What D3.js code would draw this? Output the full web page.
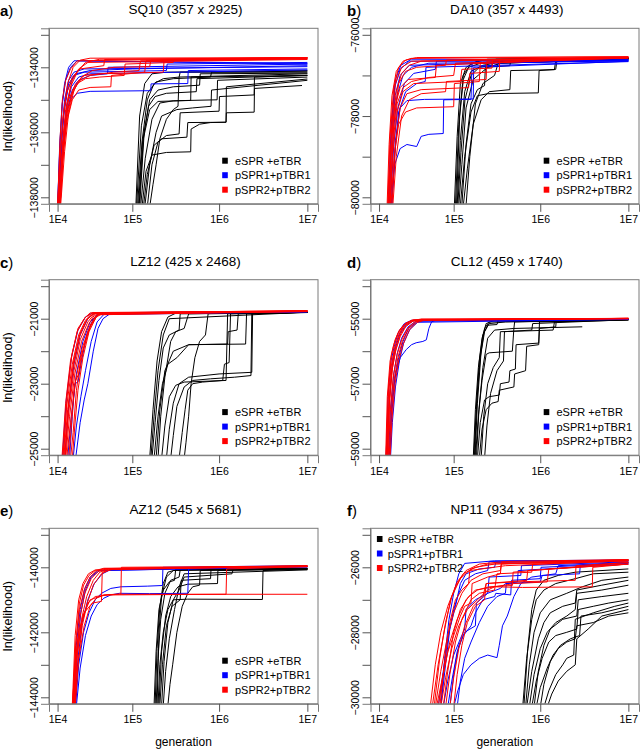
<!DOCTYPE html>
<html>
<head>
<meta charset="utf-8">
<script src="https://cdn.jsdelivr.net/npm/d3@7"></script>
<style>
  body { margin: 0; background: #fff; }
  text { font-family: "Liberation Sans", Arial, Helvetica, sans-serif; }
</style>
</head>
<body>
<svg id="chart" width="640" height="751"></svg>
<script>
// ---- values ----
const genTicks = [1e4, 1e5, 1e6, 1e7];
const genTickLabels = ["1E4", "1E5", "1E6", "1E7"];
const seriesNames = ["eSPR +eTBR", "pSPR1+pTBR1", "pSPR2+pTBR2"];
const panelLetters = ["a", "b", "c", "d", "e", "f"];
const panelTitles = ["SQ10 (357 x 2925)", "DA10 (357 x 4493)", "LZ12 (425 x 2468)",
                     "CL12 (459 x 1740)", "AZ12 (545 x 5681)", "NP11 (934 x 3675)"];
const yLimits = [[-138000, -133000], [-80000, -76000], [-25000, -20000],
                 [-59000, -54000], [-144000, -139000], [-30000, -25000]];

// each trace: [generation, ln(likelihood)]
const sq10Black = [
  [[1.1e5,-138300],[1.22e5,-135500],[1.4e5,-134500],[1.7e5,-134200],[2.5e5,-134150],[1e7,-134100]],
  [[1.15e5,-138300],[1.3e5,-136300],[1.5e5,-135000],[1.8e5,-134500],[2.3e5,-134350],[3.5e5,-134300],[3.6e5,-134150],[1e7,-134150]],
  [[1.2e5,-138300],[1.35e5,-136200],[1.6e5,-135300],[2e5,-135050],[4.75e5,-135020],[4.8e5,-134300],[1e7,-134250]],
  [[1.25e5,-138300],[1.42e5,-136800],[1.7e5,-135600],[2.1e5,-135100],[3e5,-135030],[9.5e5,-135000],[9.6e5,-134400],[1e7,-134300]],
  [[1.3e5,-138300],[1.45e5,-137200],[1.7e5,-136700],[2.5e5,-136620],[4.75e5,-136600],[4.8e5,-135900],[6e5,-135750],[8e5,-135700],[1.2e6,-135690],[1.21e6,-135400],[2.5e6,-135380],[2.52e6,-134650],[8.7e6,-134560]],
  [[1.35e5,-138300],[1.5e5,-137300],[1.8e5,-136400],[2.2e5,-136200],[4.3e5,-136150],[4.4e5,-135700],[1.2e6,-135690],[1.21e6,-134600],[1e7,-134360]],
  [[1.12e5,-138300],[1.28e5,-135800],[1.5e5,-134800],[1.9e5,-134450],[3e5,-134350],[8e5,-134300],[8.2e5,-134150],[1e7,-134120]],
  [[1.4e5,-138300],[1.6e5,-137000],[1.9e5,-136000],[2.2e5,-135500],[3.3e5,-135300],[5e5,-135250],[8.1e5,-135200],[8.2e5,-134700],[1e7,-134400]],
  [[1.18e5,-138300],[1.32e5,-136300],[1.55e5,-135200],[1.85e5,-134900],[2.5e5,-134800],[5.5e5,-134750],[5.6e5,-134350],[1e7,-134250]],
  [[1.5e5,-138300],[1.7e5,-137000],[2e5,-136300],[2.5e5,-136100],[3.5e5,-136050],[3.6e5,-135400],[1e6,-135350],[1.01e6,-134900],[2.5e6,-134850],[2.52e6,-134300],[1e7,-134250]],
  [[1.22e5,-138300],[1.38e5,-136000],[1.6e5,-135000],[2e5,-134700],[3e5,-134600],[6e5,-134550],[6.1e5,-134200],[1e7,-134180]],
  [[1.6e5,-138300],[1.75e5,-137600],[1.9e5,-137000],[2.1e5,-136200],[2.5e5,-135600],[3e5,-135300],[3.4e5,-135200],[3.5e5,-134300],[1e7,-134200]]
];
const sq10Blue = [
  [[1.05e4,-138300],[1.18e4,-136500],[1.35e4,-135500],[1.6e4,-135000],[2e4,-134800],[3e4,-134740],[1.65e5,-134720],[1.66e5,-134510],[4.4e5,-134500],[4.45e5,-134100],[1e7,-134050]],
  [[1.0e4,-138300],[1.1e4,-136300],[1.2e4,-135100],[1.35e4,-134400],[1.6e4,-134000],[2e4,-133800],[1e7,-133900]],
  [[1.05e4,-138300],[1.15e4,-136400],[1.3e4,-135200],[1.5e4,-134500],[1.9e4,-134200],[3e4,-134100],[1e5,-134050],[1e7,-133950]],
  [[1.02e4,-138300],[1.12e4,-136700],[1.25e4,-135500],[1.45e4,-134700],[1.8e4,-134250],[2.5e4,-134150],[2.5e5,-134100],[2.55e5,-133900],[1e7,-133850]],
  [[1.08e4,-138300],[1.2e4,-136600],[1.38e4,-135300],[1.65e4,-134600],[2.1e4,-134300],[3e4,-134200],[1e7,-134080]],
  [[1.0e4,-138300],[1.08e4,-136500],[1.18e4,-135200],[1.3e4,-134500],[1.5e4,-134000],[1.8e4,-133800],[1e7,-133880]],
  [[1.04e4,-138300],[1.16e4,-136200],[1.3e4,-135000],[1.5e4,-134400],[1.8e4,-134150],[2.5e4,-134050],[1e7,-133980]],
  [[1.1e4,-138300],[1.24e4,-136500],[1.4e4,-135400],[1.7e4,-134700],[2.1e4,-134400],[3e4,-134250],[5e4,-134200],[5.1e4,-134000],[1e7,-133900]]
];
const sq10Red = [
  [[1.0e4,-138300],[1.12e4,-136600],[1.25e4,-135400],[1.45e4,-134500],[1.75e4,-134000],[2.2e4,-133780],[3e4,-133720],[1e7,-133700]],
  [[1.05e4,-138300],[1.2e4,-136400],[1.35e4,-135300],[1.6e4,-134600],[2e4,-134150],[2.6e4,-133850],[4e4,-133750],[1e7,-133720]],
  [[1.1e4,-138300],[1.25e4,-136500],[1.45e4,-135300],[1.75e4,-134700],[2.2e4,-134400],[3e4,-134250],[6e4,-134150],[1.2e5,-134100],[1.25e5,-133800],[1e7,-133740]],
  [[1.05e4,-138300],[1.2e4,-136800],[1.4e4,-135700],[1.7e4,-135000],[2.1e4,-134700],[3e4,-134620],[5.5e4,-134600],[5.6e4,-134250],[1.4e5,-134150],[1.45e5,-133800],[1e7,-133720]],
  [[1.0e4,-138300],[1.1e4,-136200],[1.2e4,-135000],[1.35e4,-134400],[1.6e4,-134050],[2e4,-133800],[1e7,-133700]],
  [[1.08e4,-138300],[1.22e4,-136900],[1.4e4,-135600],[1.65e4,-134900],[2e4,-134500],[2.6e4,-134350],[4e4,-134300],[8e4,-134250],[8.2e4,-133900],[3e5,-133850],[3.1e5,-133760],[1e7,-133720]],
  [[1.12e4,-138300],[1.3e4,-136600],[1.5e4,-135400],[1.8e4,-134700],[2.3e4,-134300],[3.2e4,-134100],[6e4,-134000],[1.6e5,-133980],[1.65e5,-133780],[1e7,-133710]],
  [[1.03e4,-138300],[1.15e4,-137000],[1.3e4,-135800],[1.5e4,-135000],[1.9e4,-134500],[2.5e4,-134250],[4e4,-134200],[2.3e5,-134150],[2.35e5,-133800],[1e7,-133740]],
  [[1.0e4,-138300],[1.1e4,-136800],[1.22e4,-135600],[1.4e4,-134800],[1.7e4,-134300],[2.2e4,-134050],[4.5e4,-133950],[4.6e4,-133760],[1e7,-133700]],
  [[1.1e4,-138300],[1.25e4,-136300],[1.42e4,-135100],[1.7e4,-134400],[2.1e4,-134050],[2.8e4,-133850],[1e7,-133760]]
];

const da10Black = [
  [[1.02e5,-80200],[1.1e5,-78500],[1.2e5,-77200],[1.4e5,-76800],[2e5,-76620],[1e7,-76580]],
  [[1.05e5,-80200],[1.15e5,-78200],[1.3e5,-77000],[1.6e5,-76700],[2.5e5,-76600],[1e7,-76560]],
  [[1.1e5,-80200],[1.2e5,-78600],[1.35e5,-77400],[1.6e5,-76900],[2.2e5,-76750],[3e5,-76700],[3.1e5,-76600],[1e7,-76580]],
  [[1.2e5,-80200],[1.35e5,-79000],[1.6e5,-77900],[1.9e5,-77500],[2.5e5,-77450],[9.5e5,-77430],[9.7e5,-76880],[1.5e6,-76850],[1.55e6,-76620],[1e7,-76580]],
  [[1.3e5,-80200],[1.45e5,-79300],[1.7e5,-78200],[2.1e5,-77600],[2.6e5,-77400],[4.5e5,-77350],[4.6e5,-76880],[1.45e6,-76860],[1.5e6,-76620],[1e7,-76580]],
  [[1.08e5,-80200],[1.18e5,-78000],[1.3e5,-77100],[1.5e5,-76800],[2.2e5,-76680],[4e5,-76650],[1e7,-76590]],
  [[1.15e5,-80200],[1.25e5,-79200],[1.4e5,-77800],[1.7e5,-77100],[2.5e5,-76800],[3.5e5,-76700],[1e7,-76600]],
  [[1.4e5,-80200],[1.55e5,-79000],[1.8e5,-77700],[2.2e5,-77200],[3e5,-77000],[3.3e5,-76700],[1e7,-76600]],
  [[1.12e5,-80200],[1.22e5,-78900],[1.36e5,-77600],[1.6e5,-77000],[2e5,-76800],[2.8e5,-76750],[2.9e5,-76620],[1e7,-76570]],
  [[1.25e5,-80200],[1.4e5,-78700],[1.6e5,-77700],[1.9e5,-77350],[2.3e5,-77250],[2.35e5,-76800],[4.5e5,-76760],[4.6e5,-76630],[1e7,-76590]]
];
const da10Blue = [
  [[1.55e4,-80200],[1.75e4,-79200],[2.1e4,-78800],[2.6e4,-78700],[3.5e4,-78750],[4e4,-78500],[5e4,-78450],[7.5e4,-78430],[7.6e4,-77600],[1.6e5,-77590],[1.65e5,-76700],[1e7,-76640]],
  [[1.4e4,-80200],[1.55e4,-78300],[1.75e4,-77300],[2.1e4,-76850],[2.8e4,-76650],[1e7,-76620]],
  [[1.5e4,-80200],[1.65e4,-78500],[1.9e4,-77500],[2.3e4,-77000],[3e4,-76800],[5e4,-76700],[1e7,-76640]],
  [[1.6e4,-80200],[1.8e4,-78600],[2.1e4,-77800],[2.6e4,-77620],[4.4e4,-77590],[1.7e5,-77580],[1.72e5,-76800],[1e7,-76650]],
  [[1.45e4,-80200],[1.6e4,-78200],[1.8e4,-77100],[2.15e4,-76750],[3e4,-76600],[1e7,-76620]],
  [[1.52e4,-80200],[1.7e4,-78700],[1.95e4,-77800],[2.4e4,-77200],[3.2e4,-76950],[6e4,-76850],[6.2e4,-76650],[1e7,-76630]],
  [[1.58e4,-80200],[1.75e4,-79000],[2e4,-77900],[2.5e4,-77400],[3.5e4,-77200],[4.5e4,-77150],[4.6e4,-76800],[1e7,-76660]],
  [[1.43e4,-80200],[1.57e4,-78600],[1.78e4,-77500],[2.1e4,-77000],[2.8e4,-76750],[1e7,-76610]]
];
const da10Red = [
  [[1.38e4,-80200],[1.5e4,-78500],[1.7e4,-77300],[2e4,-76800],[2.5e4,-76620],[3.5e4,-76560],[1e7,-76540]],
  [[1.45e4,-80200],[1.6e4,-78400],[1.85e4,-77400],[2.2e4,-76950],[2.8e4,-76750],[4e4,-76650],[1e7,-76560]],
  [[1.5e4,-80200],[1.65e4,-78700],[1.9e4,-77700],[2.3e4,-77300],[3e4,-77150],[5e4,-77050],[1e5,-77000],[1.05e5,-76700],[1e7,-76570]],
  [[1.55e4,-80200],[1.72e4,-79000],[2e4,-78200],[2.5e4,-77900],[3.5e4,-77800],[1e5,-77770],[1.02e5,-77200],[2e5,-77150],[2.05e5,-76700],[1e7,-76570]],
  [[1.4e4,-80200],[1.55e4,-78800],[1.75e4,-77800],[2.1e4,-77300],[2.7e4,-77100],[6e4,-77050],[6.2e4,-76750],[1e7,-76550]],
  [[1.6e4,-80200],[1.8e4,-78700],[2.1e4,-77800],[2.6e4,-77450],[4e4,-77350],[1.5e5,-77300],[1.55e5,-76950],[3.4e5,-76900],[3.45e5,-76600],[1e7,-76560]],
  [[1.42e4,-80200],[1.58e4,-78300],[1.8e4,-77200],[2.2e4,-76800],[3e4,-76650],[1e7,-76560]],
  [[1.5e4,-80200],[1.7e4,-78200],[2e4,-77200],[2.5e4,-76900],[3.5e4,-76800],[8e4,-76750],[8.2e4,-76620],[1e7,-76560]],
  [[1.65e4,-80200],[1.85e4,-79000],[2.2e4,-78000],[2.8e4,-77600],[4e4,-77450],[8e4,-77400],[8.2e4,-77150],[2.4e5,-77100],[2.45e5,-76650],[1e7,-76570]],
  [[1.35e4,-80200],[1.45e4,-78700],[1.6e4,-77500],[1.85e4,-76900],[2.3e4,-76650],[3e4,-76580],[1e7,-76540]],
  [[1.48e4,-80200],[1.65e4,-78900],[1.9e4,-77900],[2.3e4,-77400],[3.2e4,-77200],[1.2e5,-77150],[1.25e5,-76850],[2.8e5,-76820],[2.85e5,-76620],[1e7,-76560]]
];

const lz12Black = [
  [[1.6e5,-25300],[1.75e5,-23800],[1.95e5,-22300],[2.2e5,-21400],[2.6e5,-20950],[3.2e5,-20830],[1e7,-20800]],
  [[1.7e5,-25300],[1.85e5,-24200],[2.05e5,-22900],[2.3e5,-21900],[2.7e5,-21500],[3.5e5,-21350],[3.6e5,-20850],[1e7,-20810]],
  [[1.8e5,-25300],[2e5,-24000],[2.25e5,-23000],[2.6e5,-22400],[3.3e5,-22200],[4.5e5,-21800],[1.25e6,-21780],[1.27e6,-21400],[1.6e6,-21350],[1.65e6,-20850],[1e7,-20810]],
  [[2.2e5,-25300],[2.4e5,-24300],[2.7e5,-23400],[3.2e5,-23050],[4e5,-22950],[1.2e6,-22900],[1.25e6,-20850],[1e7,-20800]],
  [[2.5e5,-25300],[2.7e5,-24400],[3e5,-23600],[3.5e5,-23000],[4.5e5,-22800],[1e6,-22700],[2.35e6,-22650],[2.4e6,-20850],[1e7,-20800]],
  [[2.8e5,-25300],[3e5,-24600],[3.3e5,-23700],[4e5,-23100],[5e5,-22900],[8e5,-22850],[1.5e6,-22800],[2.3e6,-22750],[2.35e6,-20850],[1e7,-20800]],
  [[1.9e5,-25300],[2.1e5,-23800],[2.4e5,-22600],[3e5,-22000],[4.5e5,-21800],[2e6,-21780],[2.05e6,-20850],[1e7,-20800]],
  [[2e5,-25300],[2.15e5,-24000],[2.4e5,-22800],[2.8e5,-21700],[3.2e5,-21400],[4e5,-21300],[4.5e5,-20850],[1e7,-20800]],
  [[3.5e5,-25300],[3.8e5,-24500],[4.1e5,-23800],[4.4e5,-23200],[5e5,-23000],[6.5e5,-22950],[1.1e6,-22900],[1.15e6,-22400],[1.3e6,-22350],[1.35e6,-20850],[1e7,-20800]],
  [[4e5,-25300],[4.2e5,-24800],[4.5e5,-24000],[4.8e5,-23000],[5.3e5,-22200],[6e5,-21700],[7e5,-21500],[7.5e5,-20850],[1e7,-20800]],
  [[1.65e5,-25300],[1.8e5,-24000],[2e5,-22600],[2.3e5,-21500],[2.7e5,-21000],[1e7,-20800]]
];
const lz12Blue = [
  [[1.3e4,-25300],[1.5e4,-23700],[1.8e4,-22400],[2.2e4,-21500],[2.8e4,-21000],[3.4e4,-20830],[1e7,-20780]],
  [[1.9e4,-25300],[2.2e4,-24200],[2.5e4,-23500],[2.8e4,-23000],[3.3e4,-22000],[3.8e4,-21300],[4.4e4,-21000],[5.5e4,-20830],[1e7,-20790]],
  [[1.55e4,-25300],[1.7e4,-24000],[1.85e4,-23000],[2.05e4,-22950],[2.3e4,-22300],[2.7e4,-21500],[3.3e4,-21000],[4e4,-20830],[1e7,-20780]],
  [[1.45e4,-25300],[1.65e4,-24000],[1.95e4,-22700],[2.4e4,-21700],[3e4,-21100],[3.8e4,-20850],[1e7,-20780]],
  [[1.2e4,-25300],[1.38e4,-23500],[1.65e4,-22200],[2.05e4,-21350],[2.6e4,-20950],[3.2e4,-20820],[1e7,-20770]],
  [[1.75e4,-25300],[1.95e4,-24300],[2.25e4,-23400],[2.6e4,-22600],[3.1e4,-21700],[3.7e4,-21100],[4.5e4,-20870],[1e7,-20790]]
];
const lz12Red = [
  [[1.18e4,-25300],[1.35e4,-23600],[1.6e4,-22300],[2e4,-21400],[2.5e4,-21000],[3e4,-20820],[1e7,-20760]],
  [[1.22e4,-25300],[1.4e4,-23700],[1.7e4,-22400],[2.1e4,-21500],[2.6e4,-21050],[3.2e4,-20830],[1e7,-20770]],
  [[1.26e4,-25300],[1.45e4,-23800],[1.75e4,-22500],[2.15e4,-21550],[2.7e4,-21050],[3.3e4,-20830],[1e7,-20750]],
  [[1.3e4,-25300],[1.5e4,-23900],[1.8e4,-22600],[2.2e4,-21650],[2.8e4,-21100],[3.4e4,-20850],[1e7,-20770]],
  [[1.35e4,-25300],[1.55e4,-24000],[1.85e4,-22700],[2.3e4,-21700],[2.9e4,-21150],[3.5e4,-20850],[1e7,-20760]],
  [[1.4e4,-25300],[1.6e4,-24200],[1.9e4,-22900],[2.35e4,-21900],[3e4,-21200],[3.6e4,-20880],[1e7,-20770]],
  [[1.5e4,-25300],[1.65e4,-24300],[1.8e4,-23200],[1.9e4,-22900],[2.1e4,-22700],[2.4e4,-22000],[3e4,-21250],[3.8e4,-20870],[1e7,-20780]],
  [[1.6e4,-25300],[1.75e4,-24500],[1.95e4,-23200],[2.25e4,-22200],[2.8e4,-21400],[3.5e4,-20950],[4.3e4,-20820],[1e7,-20770]],
  [[1.25e4,-25300],[1.42e4,-23400],[1.68e4,-22100],[2.05e4,-21300],[2.6e4,-20950],[3.3e4,-20810],[1e7,-20760]],
  [[1.7e4,-25300],[1.85e4,-24300],[2.05e4,-23200],[2.4e4,-22200],[2.9e4,-21400],[3.6e4,-20950],[4.5e4,-20820],[1e7,-20780]],
  [[1.33e4,-25300],[1.5e4,-23600],[1.78e4,-22300],[2.2e4,-21450],[2.75e4,-21000],[3.4e4,-20840],[1e7,-20770]]
];

const cl12Black = [
  [[1.7e5,-59300],[1.8e5,-57800],[1.95e5,-56500],[2.15e5,-55600],[2.4e5,-55150],[3e5,-55050],[1e7,-55020]],
  [[1.75e5,-59300],[1.88e5,-57500],[2.05e5,-56200],[2.3e5,-55400],[2.6e5,-55150],[4e5,-55100],[1e7,-55030]],
  [[1.8e5,-59300],[1.95e5,-58000],[2.15e5,-56900],[2.4e5,-56100],[2.6e5,-56050],[4.8e5,-56000],[5e5,-55300],[3e6,-55250]],
  [[1.9e5,-59300],[2.05e5,-58200],[2.3e5,-57500],[2.6e5,-57400],[3.4e5,-57350],[3.5e5,-57000],[4.4e5,-56950],[4.5e5,-56600],[5.2e5,-56550],[5.3e5,-55800],[9.6e5,-55750],[9.8e5,-55100],[1e7,-55030]],
  [[2e5,-59300],[2.15e5,-58400],[2.4e5,-57800],[2.8e5,-57600],[3.3e5,-57550],[3.4e5,-57200],[5e5,-57100],[5.1e5,-56700],[6.8e5,-56600],[7e5,-55850],[9.6e5,-55800],[9.8e5,-55300],[1.5e6,-55250],[1.52e6,-55050],[1e7,-55020]],
  [[1.72e5,-59300],[1.85e5,-57700],[2e5,-56300],[2.2e5,-55500],[2.5e5,-55200],[3.2e5,-55180],[3.3e5,-55060],[1e7,-55020]],
  [[2.1e5,-59300],[2.25e5,-58000],[2.5e5,-57000],[2.9e5,-56500],[3.4e5,-56200],[3.5e5,-55400],[1.4e6,-55350],[1.45e6,-55100],[1e7,-55040]],
  [[1.85e5,-59300],[1.98e5,-57800],[2.2e5,-56500],[2.5e5,-55600],[3e5,-55350],[5e5,-55300],[5.1e5,-55100],[1e7,-55030]],
  [[1.78e5,-59300],[1.9e5,-57600],[2.1e5,-56000],[2.3e5,-55300],[2.6e5,-55100],[1e7,-55030]],
  [[2.3e5,-59300],[2.45e5,-58300],[2.7e5,-57300],[3.2e5,-56600],[3.8e5,-56300],[3.9e5,-55400],[8e5,-55350],[8.2e5,-55150],[1e7,-55030]]
];
const cl12Blue = [
  [[1.45e4,-59300],[1.6e4,-57500],[1.8e4,-56700],[2.1e4,-56200],[2.55e4,-55950],[3e4,-55800],[3.45e4,-55740],[4.2e4,-55700],[4.65e4,-55650],[5e4,-55300],[5.4e4,-55100],[6e4,-55050],[1e7,-55000]],
  [[1.35e4,-59300],[1.45e4,-57600],[1.6e4,-56500],[1.8e4,-55900],[2.1e4,-55450],[2.5e4,-55200],[3.2e4,-55060],[1e7,-55010]],
  [[1.42e4,-59300],[1.52e4,-57800],[1.7e4,-56700],[1.92e4,-56050],[2.2e4,-55600],[2.7e4,-55250],[3.4e4,-55080],[1e7,-55020]],
  [[1.48e4,-59300],[1.58e4,-58000],[1.75e4,-56900],[2e4,-56200],[2.3e4,-55700],[2.75e4,-55300],[3.5e4,-55100],[4.5e4,-55030],[1e7,-55010]],
  [[1.3e4,-59300],[1.4e4,-57300],[1.55e4,-56300],[1.75e4,-55800],[2e4,-55400],[2.4e4,-55150],[3e4,-55050],[1e7,-55000]],
  [[1.52e4,-59300],[1.62e4,-58200],[1.8e4,-57100],[2.05e4,-56300],[2.35e4,-55750],[2.85e4,-55330],[3.6e4,-55110],[1e7,-55020]]
];
const cl12Red = [
  [[1.3e4,-59300],[1.4e4,-57500],[1.55e4,-56500],[1.75e4,-55900],[2e4,-55500],[2.4e4,-55200],[3e4,-55060],[4e4,-55010],[1e7,-54990]],
  [[1.33e4,-59300],[1.43e4,-57700],[1.6e4,-56600],[1.8e4,-56000],[2.1e4,-55550],[2.5e4,-55250],[3.1e4,-55080],[4e4,-55020],[1e7,-54990]],
  [[1.36e4,-59300],[1.47e4,-57600],[1.63e4,-56500],[1.85e4,-55900],[2.15e4,-55450],[2.6e4,-55180],[3.3e4,-55050],[1e7,-55000]],
  [[1.4e4,-59300],[1.5e4,-57900],[1.67e4,-56800],[1.9e4,-56100],[2.2e4,-55650],[2.65e4,-55300],[3.3e4,-55100],[4.2e4,-55030],[1e7,-54990]],
  [[1.28e4,-59300],[1.36e4,-57400],[1.5e4,-56300],[1.7e4,-55800],[1.95e4,-55450],[2.35e4,-55200],[3e4,-55050],[1e7,-54990]],
  [[1.45e4,-59300],[1.55e4,-58000],[1.72e4,-56900],[1.95e4,-56200],[2.25e4,-55700],[2.7e4,-55320],[3.4e4,-55100],[4.3e4,-55030],[1e7,-55000]],
  [[1.38e4,-59300],[1.48e4,-57300],[1.62e4,-56300],[1.82e4,-55800],[2.1e4,-55400],[2.5e4,-55150],[3.2e4,-55040],[1e7,-54990]],
  [[1.5e4,-59300],[1.6e4,-58100],[1.78e4,-57000],[2e4,-56300],[2.3e4,-55800],[2.8e4,-55350],[3.5e4,-55120],[4.5e4,-55040],[1e7,-55000]],
  [[1.32e4,-59300],[1.42e4,-57100],[1.57e4,-56100],[1.78e4,-55650],[2.05e4,-55350],[2.45e4,-55150],[3.1e4,-55040],[1e7,-54990]]
];

const az12Black = [
  [[1.85e5,-144250],[1.95e5,-142500],[2.1e5,-141200],[2.3e5,-140500],[2.6e5,-140150],[3.2e5,-140080],[1e7,-140050]],
  [[1.9e5,-144250],[2e5,-142800],[2.15e5,-141600],[2.4e5,-140800],[2.8e5,-140400],[3.5e5,-140300],[3.6e5,-140080],[1e7,-140060]],
  [[2e5,-144250],[2.1e5,-143000],[2.3e5,-142000],[2.6e5,-141300],[3e5,-141000],[4.4e5,-140980],[3.1e6,-140990],[3.15e6,-140100],[1e7,-140060]],
  [[2.05e5,-144250],[2.2e5,-142600],[2.45e5,-141500],[2.8e5,-140900],[3.4e5,-140600],[4.4e5,-140520],[9.6e5,-140500],[9.7e5,-140100],[1e7,-140060]],
  [[2.6e5,-144250],[2.75e5,-143600],[2.95e5,-143000],[3.3e5,-142000],[3.8e5,-141200],[4.4e5,-140800],[5e5,-140600],[6e5,-140550],[6.1e5,-140100],[1e7,-140050]],
  [[1.95e5,-144250],[2.05e5,-142000],[2.2e5,-140900],[2.5e5,-140300],[3e5,-140100],[1e7,-140030]],
  [[2.1e5,-144250],[2.25e5,-143000],[2.5e5,-141800],[2.9e5,-141200],[3.6e5,-141000],[3.7e5,-140400],[8e5,-140350],[8.1e5,-140050],[1e7,-140040]],
  [[2.2e5,-144250],[2.35e5,-142900],[2.6e5,-141700],[3e5,-141000],[3.5e5,-140700],[4e5,-140300],[1.4e6,-140200],[1.45e6,-140060],[1e7,-140040]],
  [[2.3e5,-144250],[2.45e5,-143200],[2.7e5,-142200],[3.1e5,-141300],[3.5e5,-140600],[4e5,-140200],[1e7,-140080]],
  [[1.8e5,-144250],[1.9e5,-142600],[2.05e5,-141300],[2.3e5,-140700],[2.7e5,-140450],[3.1e5,-140400],[3.2e5,-140060],[1e7,-140040]]
];
const az12Blue = [
  [[1.75e4,-144250],[1.92e4,-142500],[2.2e4,-141300],[2.55e4,-140650],[3e4,-140300],[3.8e4,-140100],[1e7,-139970]],
  [[1.85e4,-144250],[2.05e4,-142800],[2.35e4,-141700],[2.8e4,-141000],[3.4e4,-140500],[4.3e4,-140200],[5.5e4,-140070],[1e7,-139990]],
  [[1.8e4,-144250],[1.98e4,-142600],[2.25e4,-141400],[2.6e4,-140700],[3.1e4,-140300],[4e4,-140100],[1e7,-139980]],
  [[1.9e4,-144250],[2.1e4,-143000],[2.45e4,-142000],[2.9e4,-141400],[3.5e4,-141000],[4.2e4,-140800],[5.5e4,-140650],[7.3e4,-140600],[1.5e5,-140580],[2.25e5,-140560],[2.28e5,-140000],[1e7,-139950]],
  [[1.95e4,-144250],[2.2e4,-143100],[2.6e4,-142100],[3.1e4,-141500],[3.7e4,-141150],[4.5e4,-140950],[5.5e4,-140850],[7e4,-140800],[1.6e5,-140810],[4.4e5,-140800],[4.5e5,-140050],[1e7,-139980]]
];
const az12Red = [
  [[1.72e4,-144250],[1.9e4,-142400],[2.15e4,-141300],[2.5e4,-140700],[3e4,-140300],[3.6e4,-140120],[4.5e4,-140040],[1e7,-139960]],
  [[1.78e4,-144250],[1.95e4,-142600],[2.2e4,-141500],[2.55e4,-140800],[3.1e4,-140350],[3.8e4,-140130],[5e4,-140040],[1e7,-139980]],
  [[1.82e4,-144250],[2e4,-142700],[2.3e4,-141600],[2.7e4,-140900],[3.3e4,-140400],[4e4,-140150],[5.2e4,-140050],[1e7,-139950]],
  [[1.75e4,-144250],[1.92e4,-142300],[2.15e4,-141100],[2.45e4,-140550],[2.9e4,-140250],[3.5e4,-140100],[4.5e4,-140030],[1e7,-139970]],
  [[1.88e4,-144250],[2.07e4,-142900],[2.35e4,-141800],[2.75e4,-141100],[3.3e4,-140550],[4.2e4,-140200],[5.5e4,-140060],[1e7,-139960]],
  [[1.7e4,-144250],[1.87e4,-142100],[2.1e4,-141000],[2.4e4,-140500],[2.85e4,-140200],[3.5e4,-140080],[1e7,-139970]],
  [[1.85e4,-144250],[2.1e4,-142800],[2.5e4,-141800],[3e4,-141200],[3.6e4,-140950],[4.5e4,-140860],[7e4,-140830],[1e7,-140830]],
  [[1.8e4,-144250],[2e4,-142700],[2.3e4,-141700],[2.8e4,-141100],[3.5e4,-140900],[5e4,-140850],[1.2e6,-140830],[1.22e6,-140050],[1e7,-139980]],
  [[1.78e4,-144250],[2e4,-142600],[2.4e4,-141500],[3e4,-141000],[4.5e4,-140850],[7.3e4,-140820],[7.4e4,-140000],[1e7,-139960]],
  [[1.7e4,-144250],[1.9e4,-142800],[2.15e4,-141900],[2.5e4,-141400],[3.2e4,-141100],[4.2e4,-141050],[4.3e4,-140150],[6e4,-140050],[1e7,-139970]]
];

const np11Black = [
  [[6.3e5,-30300],[7e5,-28800],[8e5,-27600],[9e5,-27000],[1.1e6,-26700],[1.5e6,-26500],[2.5e6,-26350],[4e6,-26200],[1e7,-26150]],
  [[7e5,-30300],[8e5,-29200],[9.5e5,-28200],[1.1e6,-27700],[1.3e6,-27400],[1.8e6,-27200],[2.5e6,-27100],[2.6e6,-26700],[5e6,-26550],[1e7,-26400]],
  [[8e5,-30300],[9e5,-29500],[1.05e6,-28800],[1.25e6,-28300],[1.5e6,-28100],[2e6,-28000],[2.6e6,-27900],[2.7e6,-27300],[4e6,-27200],[6e6,-27100],[1e7,-27000]],
  [[9e5,-30300],[1e6,-29700],[1.2e6,-29100],[1.4e6,-28700],[1.7e6,-28400],[2.2e6,-28200],[2.8e6,-28100],[2.9e6,-27500],[5e6,-27400],[1e7,-27200]],
  [[6.8e5,-30300],[7.5e5,-29000],[8.5e5,-28000],[1e6,-27400],[1.3e6,-27000],[2e6,-26800],[3e6,-26600],[5e6,-26400],[1e7,-26300]],
  [[1e6,-30300],[1.1e6,-29600],[1.3e6,-28900],[1.6e6,-28500],[2e6,-28300],[2.5e6,-28200],[2.6e6,-27800],[4e6,-27700],[6e6,-27500],[1e7,-27400]],
  [[1.1e6,-30300],[1.25e6,-29800],[1.5e6,-29300],[1.8e6,-29000],[2e6,-28800],[2.4e6,-28700],[2.5e6,-27600],[4e6,-27400],[7e6,-27200],[1e7,-27100]],
  [[7.5e5,-30300],[8.5e5,-29300],[1e6,-28500],[1.2e6,-28000],[1.5e6,-27700],[2e6,-27500],[2.5e6,-27300],[2.6e6,-26800],[5e6,-26700],[1e7,-26550]],
  [[1.2e6,-30300],[1.35e6,-29900],[1.6e6,-29500],[2e6,-29200],[2.5e6,-29000],[2.6e6,-28200],[3.5e6,-27900],[5e6,-27500],[1e7,-27300]],
  [[6.5e5,-30300],[7.2e5,-28500],[8e5,-27300],[9e5,-26700],[1.1e6,-26400],[1.6e6,-26250],[2.5e6,-26150],[1e7,-26050]],
  [[8.5e5,-30300],[9.5e5,-29200],[1.1e6,-28400],[1.3e6,-27900],[1.8e6,-27600],[2.6e6,-27500],[2.7e6,-27000],[5e6,-26900],[1e7,-26800]]
];
const np11Blue = [
  [[7e4,-30300],[7.8e4,-28800],[8.8e4,-27600],[1e5,-26800],[1.15e5,-26200],[1.35e5,-25880],[3e5,-25800],[1e7,-25780]],
  [[7e4,-30300],[8e4,-29000],[9e4,-27900],[1.05e5,-27200],[1.2e5,-26500],[1.4e5,-26200],[2e5,-26050],[3e5,-26000],[3.1e5,-25850],[1e7,-25800]],
  [[1e5,-30300],[1.12e5,-29800],[1.3e5,-29300],[1.6e5,-29000],[2e5,-28800],[2.5e5,-28700],[3.2e5,-28780],[3.4e5,-28400],[3.7e5,-27800],[4.2e5,-27500],[5e5,-26900],[6e5,-26500],[8e5,-26300],[1.5e6,-26200],[1.6e6,-25950],[1e7,-25850]],
  [[8.5e4,-30300],[9.5e4,-29500],[1.1e5,-28600],[1.3e5,-28100],[1.6e5,-27800],[1.8e5,-27400],[2.2e5,-27000],[3e5,-26900],[3.1e5,-26800],[4.6e5,-26850],[4.7e5,-26400],[1e6,-26350],[1.02e6,-26000],[1e7,-25880]],
  [[9e4,-30300],[1e5,-29300],[1.15e5,-28400],[1.35e5,-28000],[1.8e5,-27800],[1.85e5,-27100],[2.5e5,-26800],[3.5e5,-26650],[4e5,-26500],[1e6,-26450],[1.05e6,-26250],[2.8e6,-26200],[2.85e6,-25950],[1e7,-25850]],
  [[6.5e4,-30300],[7.5e4,-29200],[8.8e4,-28000],[1e5,-27300],[1.15e5,-26800],[1.35e5,-26400],[1.8e5,-26200],[2.5e5,-26100],[2.6e5,-25820],[1e7,-25780]],
  [[7.5e4,-30300],[8.5e4,-29500],[1e5,-28700],[1.2e5,-28200],[1.35e5,-27900],[1.4e5,-27300],[1.8e5,-27000],[2.5e5,-26800],[2.6e5,-26300],[6e5,-26250],[6.1e5,-25950],[1e7,-25830]],
  [[1.1e5,-30300],[1.2e5,-29500],[1.35e5,-28800],[1.6e5,-28300],[2e5,-27700],[2.5e5,-27200],[3.2e5,-26900],[4e5,-26800],[4.1e5,-26500],[5.5e5,-26450],[5.6e5,-26100],[1e7,-25900]]
];
const np11Red = [
  [[5.5e4,-30300],[6.5e4,-29000],[7.8e4,-27900],[9.2e4,-27000],[1.1e5,-26450],[1.4e5,-26100],[2e5,-25900],[4e5,-25820],[1e7,-25760]],
  [[6e4,-30300],[7e4,-29200],[8.5e4,-28100],[1e5,-27400],[1.25e5,-26800],[1.6e5,-26400],[2.2e5,-26200],[3.5e5,-26100],[3.6e5,-25850],[1e7,-25780]],
  [[6.5e4,-30300],[7.5e4,-29300],[9e4,-28300],[1.1e5,-27600],[1.4e5,-27000],[1.8e5,-26700],[3e5,-26600],[6.3e5,-26620],[3.9e6,-26600],[3.95e6,-26000],[1e7,-25900]],
  [[5.8e4,-30300],[6.8e4,-28800],[8e4,-27700],[9.5e4,-26900],[1.2e5,-26350],[1.6e5,-26050],[2.5e5,-25900],[1e7,-25780]],
  [[7e4,-30300],[8e4,-29400],[9.5e4,-28500],[1.15e5,-27800],[1.45e5,-27300],[1.9e5,-27000],[2.5e5,-26700],[3e5,-26600],[5e5,-26500],[1.2e6,-26450],[1.25e6,-26050],[1e7,-25900]],
  [[6.2e4,-30300],[7.2e4,-29500],[8.5e4,-28600],[1e5,-28100],[1.2e5,-27500],[1.35e5,-27200],[1.6e5,-27100],[1.65e5,-26500],[2.5e5,-26300],[3.5e5,-26200],[3.6e5,-25900],[1e7,-25800]],
  [[8e4,-30300],[9e4,-29300],[1.05e5,-28300],[1.25e5,-27600],[1.6e5,-27000],[2e5,-26800],[3e5,-26700],[3.2e5,-26200],[8e5,-26150],[8.2e5,-25900],[1e7,-25800]],
  [[5.2e4,-30300],[6e4,-29000],[7e4,-28000],[8.5e4,-27200],[1.05e5,-26600],[1.3e5,-26200],[1.8e5,-26000],[3e5,-25900],[1e7,-25760]],
  [[7.5e4,-30300],[8.5e4,-29200],[1e5,-28000],[1.2e5,-27300],[1.5e5,-26900],[1.9e5,-26700],[2.6e5,-26600],[4.8e5,-26560],[4.9e5,-26150],[1e7,-25850]],
  [[9e4,-30300],[1e5,-29400],[1.15e5,-28500],[1.35e5,-27800],[1.7e5,-27200],[2.2e5,-26900],[2.4e5,-26500],[5e5,-26450],[2.5e6,-26400],[2.55e6,-25950],[1e7,-25850]],
  [[6.8e4,-30300],[7.8e4,-28900],[9e4,-27700],[1.05e5,-27000],[1.25e5,-26700],[1.5e5,-26500],[1.55e5,-26100],[4e5,-25950],[1e7,-25800]],
  [[1e5,-30300],[1.1e5,-29300],[1.25e5,-28400],[1.45e5,-27700],[1.8e5,-27200],[2.3e5,-27000],[2.4e5,-26500],[7e5,-26400],[7.2e5,-26100],[1e7,-25900]]
];

// ---- layout ----
const panelSeries = [
  [sq10Black, sq10Blue, sq10Red],
  [da10Black, da10Blue, da10Red],
  [lz12Black, lz12Blue, lz12Red],
  [cl12Black, cl12Blue, cl12Red],
  [az12Black, az12Blue, az12Red],
  [np11Black, np11Blue, np11Red]
];
const colors = ["#000000", "#0000ff", "#ff0000"];
const colLeft = [49, 370.5], colRight = [318, 639];
const rowTop = [28.3, 279.7, 528.3], plotH = 175.5;
const genOffset = 5000;   // the x axis is log(generation + offset)
const font = '"Liberation Sans", Arial, Helvetica, sans-serif';

const svg = d3.select("#chart");
const defs = svg.append("defs");

panelTitles.forEach((title, i) => {
  const col = i % 2, row = Math.floor(i / 2);
  const left = colLeft[col], right = colRight[col];
  const top = rowTop[row], bottom = top + plotH;

  const xs = d3.scaleLog().domain([12000, 13.2e6]).range([left, right]);
  const x = g => xs(g + genOffset);
  const [ymin, ymax] = yLimits[i];
  const pad = (ymax - ymin) * 0.04;
  const y = d3.scaleLinear().domain([ymin - pad, ymax + pad]).range([bottom, top]);

  const g = svg.append("g");

  defs.append("clipPath").attr("id", "clip" + i)
    .append("rect").attr("x", left).attr("y", top)
    .attr("width", right - left).attr("height", plotH);

  const line = d3.line().x(d => x(d[0])).y(d => y(d[1]));
  const traces = g.append("g").attr("clip-path", "url(#clip" + i + ")");
  panelSeries[i].forEach((series, s) => {
    traces.selectAll(null).data(series).enter().append("path")
      .attr("d", line)
      .attr("fill", "none")
      .attr("stroke", colors[s])
      .attr("stroke-width", 1)
      .attr("stroke-linejoin", "round");
  });

  // plot box
  g.append("rect").attr("x", left).attr("y", top)
    .attr("width", right - left).attr("height", plotH)
    .attr("fill", "none").attr("stroke", "#7a7a7a").attr("stroke-width", 1);

  // x axis
  const xAxis = g.append("g")
    .attr("transform", "translate(0," + bottom + ")")
    .call(d3.axisBottom(xs)
      .tickValues(genTicks.map(v => v + genOffset))
      .tickFormat((d, k) => genTickLabels[k])
      .tickSize(8).tickPadding(4));
  xAxis.select(".domain").attr("stroke", "#7a7a7a");
  xAxis.selectAll(".tick line").attr("stroke", "#555");
  xAxis.selectAll("text").attr("font-family", font).attr("font-size", 10.5).attr("fill", "#000");

  // y axis: ticks every 1000, labels every 2000 from the bottom
  const yTicks = d3.range(ymin, ymax + 1, 1000);
  const yAxis = g.append("g")
    .attr("transform", "translate(" + left + ",0)")
    .call(d3.axisLeft(y).tickValues(yTicks)
      .tickFormat(d => ((d - ymin) % 2000 === 0 ? "\u2212" + Math.abs(d) : ""))
      .tickSize(8));
  yAxis.select(".domain").attr("stroke", "#7a7a7a");
  yAxis.selectAll(".tick line").attr("stroke", "#555");
  yAxis.selectAll("text")
    .attr("font-family", font).attr("font-size", 10.5).attr("fill", "#000")
    .attr("transform", "rotate(-90)")
    .attr("x", 0).attr("y", -11.5).attr("dy", 0)
    .attr("text-anchor", "middle");

  // title and panel letter
  g.append("text").attr("x", (left + right) / 2 + 2).attr("y", top - 14)
    .attr("text-anchor", "middle").attr("font-family", font).attr("font-size", 13.5)
    .text(title);
  const lab = g.append("text").attr("x", col === 0 ? 0 : 347).attr("y", top - 12)
    .attr("font-family", font).attr("font-size", 15);
  lab.append("tspan").attr("font-weight", "bold").text(panelLetters[i]);
  lab.append("tspan").text(")");

  if (col === 0) {
    g.append("text")
      .attr("transform", "translate(12," + (top + plotH / 2) + ") rotate(-90)")
      .attr("text-anchor", "middle").attr("font-family", font).attr("font-size", 12.5)
      .text("ln(likelihood)");
  }
  if (row === 2) {
    g.append("text").attr("x", (left + right) / 2).attr("y", 746)
      .attr("text-anchor", "middle").attr("font-family", font).attr("font-size", 12)
      .text("generation");
  }

  // legend
  const topLegend = i === 5;
  const lx = topLegend ? left + 9.2 : left + 176;
  const ly = topLegend ? top + 10.7 : top + 132.4;
  seriesNames.forEach((name, s) => {
    const cy = ly + s * 14.5;
    g.append("rect").attr("x", lx - 2.8).attr("y", cy - 3).attr("width", 5.6).attr("height", 6)
      .attr("fill", colors[s]);
    g.append("text").attr("x", lx + (topLegend ? 8 : 10)).attr("y", cy + 4)
      .attr("font-family", font).attr("font-size", 11)
      .text(name);
  });
});
</script>
</body>
</html>
